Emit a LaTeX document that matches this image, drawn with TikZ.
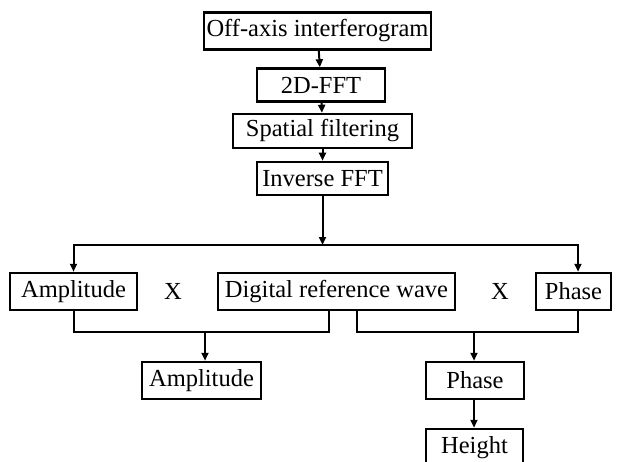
\documentclass[tikz,border=0pt]{standalone}
\usepackage{fontspec}
\setmainfont{Liberation Serif}
\usetikzlibrary{arrows.meta}
\tikzset{
	stepbox/.style={draw,line width=2.5pt,inner sep=0pt,minimum height=35pt,font=\fontsize{24.5}{27}\selectfont},
	flow/.style={line width=2pt,-{Triangle[length=8pt,width=7pt]}},
	wire/.style={line width=2pt}
}
\begin{document}
\begin{tikzpicture}[x=1pt,y=-1pt]
				\useasboundingbox (0,0) rectangle (617,462);
				\clip (0,0) rectangle (617,462);
				% chain at top
				\node[stepbox,minimum width=227pt,minimum height=37pt] (off) at (317.5,31) {Off-axis interferogram};
				\node[stepbox,minimum width=128pt,minimum height=33pt] (fft) at (321,85) {2D-FFT};
				\node[stepbox,minimum width=179pt,minimum height=34pt] (filt) at (322.5,131) {Spatial filtering};
				\node[stepbox,minimum width=131pt,minimum height=33pt] (ifft) at (322.5,178.5) {Inverse FFT};
				\draw[flow] (off) -- (fft);
				\draw[flow] (fft) -- (filt);
				\draw[flow] (filt) -- (ifft);
				% middle row
				\node[stepbox,minimum width=127pt,minimum height=37pt] (amp1) at (73.5,291.5) {Amplitude};
				\node[stepbox,minimum width=237pt,minimum height=37pt] (dig) at (336.5,291.5) {Digital reference wave};
				\node[stepbox,minimum width=75pt,minimum height=37pt] (ph1) at (573.5,291.5) {Phase};
				\node[font=\fontsize{24.5}{27}\selectfont] (x1) at (173,291.5) {X};
				\node[font=\fontsize{24.5}{27}\selectfont] (x2) at (500,291.5) {X};
				\coordinate (split) at (322.5,245);
				\draw[flow] (ifft) -- (split);
				\draw[flow] (split) -| (amp1.north);
				\draw[flow] (split) -| ([xshift=4.5pt]ph1.north);
				% bottom
				\coordinate (jl) at (205,332);
				\coordinate (jr) at (474,332);
				\node[stepbox,minimum width=119pt,minimum height=37pt] (amp2) at (201.5,380.5) {Amplitude};
				\node[stepbox,minimum width=98pt,minimum height=37pt] (ph2) at (475,380.5) {Phase};
				\node[stepbox,minimum width=97pt,minimum height=37pt] (hgt) at (474.5,447.5) {Height};
				\draw[wire] (amp1.south) |- ([xshift=-7.5pt]dig.south |- jl) -- ([xshift=-7.5pt]dig.south);
				\draw[wire] ([xshift=20.5pt]dig.south) |- ([xshift=4.5pt]ph1.south |- jr) -- ([xshift=4.5pt]ph1.south);
				\draw[flow] (jl) -- (jl |- amp2.north);
				\draw[flow] (jr) -- (jr |- ph2.north);
				\draw[flow] (jr |- ph2.south) -- (jr |- hgt.north);
			\end{tikzpicture}
\end{document}
